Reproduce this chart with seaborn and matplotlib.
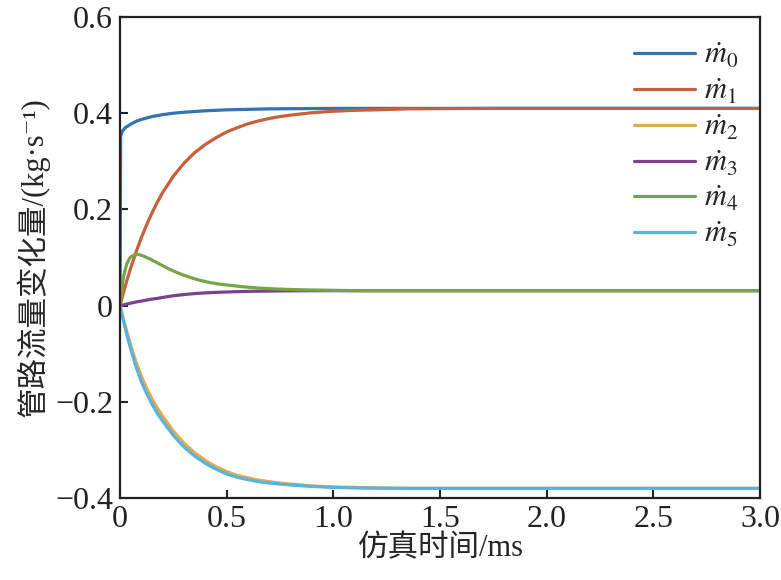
import numpy as np
import pandas as pd
import matplotlib
matplotlib.use("Agg")
import matplotlib.pyplot as plt
import seaborn as sns

# time axis (ms) and flow changes (kg/s)
t = [0, 0.0125, 0.025, 0.0375, 0.05, 0.075, 0.1, 0.125, 0.15, 0.175, 0.2, 0.25, 0.3,
     0.35, 0.4, 0.45, 0.5, 0.55, 0.6, 0.65, 0.7, 0.75, 0.8, 0.9, 1.0, 1.1, 1.2, 1.35,
     1.5, 1.75, 2.0, 3.0]

m0_t = [0, 0.003, 0.01, 0.025, 0.05, 0.075, 0.1, 0.15, 0.2, 0.25, 0.3, 0.4, 0.5, 0.6,
        0.7, 0.85, 1.0, 1.5, 3.0]
m0 = [0, 0.352, 0.362, 0.370, 0.377, 0.383, 0.387, 0.393, 0.397, 0.400, 0.402, 0.405,
      0.407, 0.408, 0.409, 0.4095, 0.410, 0.410, 0.410]

m1 = [0, 0.021, 0.041, 0.060, 0.078, 0.111, 0.141, 0.168, 0.193, 0.215, 0.235, 0.269,
      0.296, 0.318, 0.335, 0.349, 0.361, 0.370, 0.378, 0.384, 0.389, 0.393, 0.396, 0.401,
      0.404, 0.406, 0.407, 0.409, 0.4095, 0.410, 0.410, 0.410]
m2 = [0, -0.022, -0.043, -0.063, -0.082, -0.117, -0.147, -0.172, -0.194, -0.213, -0.230,
      -0.261, -0.286, -0.306, -0.322, -0.335, -0.345, -0.353, -0.358, -0.363, -0.366,
      -0.369, -0.371, -0.375, -0.377, -0.378, -0.379, -0.380, -0.380, -0.380, -0.380, -0.380]
m3 = [0, 0.0012, 0.0025, 0.0038, 0.005, 0.0075, 0.0095, 0.0115, 0.0135, 0.015, 0.017,
      0.0205, 0.023, 0.025, 0.0265, 0.0275, 0.0283, 0.029, 0.0295, 0.030, 0.0302, 0.0305,
      0.0307, 0.031, 0.031, 0.031, 0.031, 0.031, 0.031, 0.031, 0.031, 0.031]
m5 = [0, -0.025, -0.048, -0.070, -0.090, -0.127, -0.158, -0.183, -0.205, -0.224, -0.240,
      -0.270, -0.294, -0.313, -0.328, -0.340, -0.350, -0.357, -0.362, -0.366, -0.369,
      -0.371, -0.373, -0.376, -0.378, -0.379, -0.3795, -0.380, -0.380, -0.380, -0.380, -0.380]

m4_t = [0, 0.008, 0.016, 0.031, 0.047, 0.06, 0.075, 0.09, 0.11, 0.14, 0.17, 0.2, 0.23,
        0.266, 0.3, 0.34, 0.38, 0.42, 0.46, 0.5, 0.578, 0.65, 0.734, 0.8, 0.89, 1.0,
        1.1, 1.5, 3.0]
m4 = [0, 0.031, 0.059, 0.086, 0.100, 0.104, 0.106, 0.106, 0.103, 0.097, 0.090, 0.083,
      0.076, 0.069, 0.063, 0.057, 0.052, 0.048, 0.045, 0.043, 0.039, 0.0365, 0.0345,
      0.0335, 0.0325, 0.0318, 0.031, 0.031, 0.031]

labels = [r'$\dot{m}_0$', r'$\dot{m}_1$', r'$\dot{m}_2$', r'$\dot{m}_3$', r'$\dot{m}_4$', r'$\dot{m}_5$']
colors = ['#3274b0', '#c8603c', '#e0aa55', '#7b4190', '#75a548', '#5ab4d8']

xticks = [0, 0.5, 1.0, 1.5, 2.0, 2.5, 3.0]
xticklabels = ['0', '0.5', '1.0', '1.5', '2.0', '2.5', '3.0']
yticks = [-0.4, -0.2, 0, 0.2, 0.4, 0.6]
yticklabels = ['\u22120.4', '\u22120.2', '0', '0.2', '0.4', '0.6']

sns.set_theme(style='ticks')
plt.rcParams['font.family'] = ['Liberation Serif', 'Noto Sans CJK SC', 'DejaVu Serif']
plt.rcParams['mathtext.fontset'] = 'stix'

fig, ax = plt.subplots(figsize=(7.81, 5.8), dpi=100)
fig.subplots_adjust(left=120/781, right=760/781, top=1-17/580, bottom=1-498/580)

series = [(m0_t, m0), (t, m1), (t, m2), (t, m3), (m4_t, m4), (t, m5)]
for (xs, ys), lab, c in zip(series, labels, colors):
    sns.lineplot(x=xs, y=ys, ax=ax, color=c, lw=2.3, label=lab, sort=False)

ax.set_xlim(0, 3.0)
ax.set_ylim(-0.4, 0.6)
ax.set_xticks(xticks)
ax.set_xticklabels(xticklabels)
ax.set_yticks(yticks)
ax.set_yticklabels(yticklabels)
ax.tick_params(direction='in', length=6, width=1.5, labelsize=23, colors='#222222', pad=5)
for s in ax.spines.values():
    s.set_linewidth(1.6)
    s.set_color('#222222')

ax.set_xlabel('仿真时间/ms', fontsize=22, labelpad=0)
ax.set_ylabel('管路流量变化量/(kg·s\u207b\u00b9)', fontsize=22, labelpad=4)

ax.legend(loc='upper right', bbox_to_anchor=(1.01, 1.005), frameon=False, fontsize=22,
          handlelength=2.0, labelspacing=0.22, handletextpad=0.3)

fig.savefig('out.png', dpi=100)
